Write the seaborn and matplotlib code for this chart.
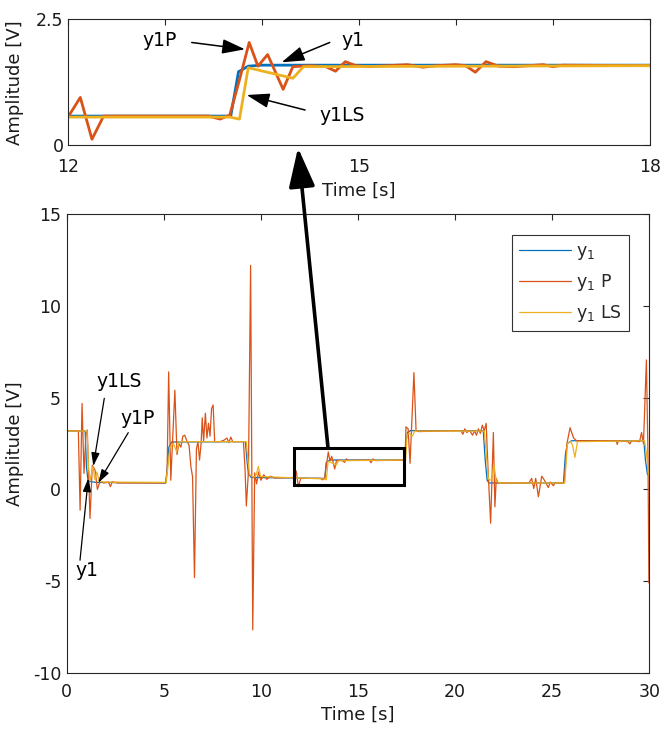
import matplotlib
matplotlib.use("Agg")
import matplotlib.pyplot as plt
import seaborn as sns
import pandas as pd
from matplotlib.patches import Rectangle

# ---------------- data ----------------
# main plot, 0-30 s
t_y1 = [0, 0.95, 1.02, 1.1, 1.5, 5.1, 5.18, 5.26, 5.4, 9.2, 9.28, 9.36, 9.5,
        13.29, 13.36, 13.46, 13.6, 17.4, 17.47, 17.55, 17.7, 21.45, 21.55, 21.65,
        21.75, 25.58, 25.68, 25.78, 26.0, 29.72, 29.8, 29.9, 30.0]
v_y1 = [3.18, 3.18, 1.2, 0.45, 0.38, 0.35, 1.2, 2.3, 2.58, 2.6, 1.6, 0.85, 0.65,
        0.6, 1.46, 1.56, 1.6, 1.6, 2.6, 3.1, 3.2, 3.2, 1.6, 0.5,
        0.35, 0.35, 1.9, 2.5, 2.65, 2.65, 1.6, 0.85, 0.7]

t_y1p = [0, 0.6, 0.69, 0.79, 0.89, 0.99, 1.06, 1.2, 1.32, 1.46, 1.58, 1.72, 1.9,
         2.15, 2.25, 2.35, 2.6, 5.1, 5.17, 5.25, 5.36, 5.47, 5.57, 5.68, 5.78,
         5.88, 5.98, 6.08, 6.2, 6.3, 6.4, 6.48, 6.58, 6.68, 6.76, 6.84, 6.92,
         6.98, 7.05, 7.14, 7.22, 7.3, 7.38, 7.46, 7.54, 7.62, 7.9, 8.1, 8.25,
         8.35, 8.45, 8.55, 9.1, 9.18, 9.25, 9.36, 9.47, 9.58, 9.68, 9.78, 9.88,
         10.0, 10.15, 10.3, 10.5, 10.7, 11.7, 11.82, 11.93, 12.05, 13.07, 13.18,
         13.28, 13.37, 13.47, 13.55, 13.65, 13.8, 13.89, 14.06, 14.21, 14.31,
         14.4, 14.51, 15.58, 15.67, 15.77, 15.9, 17.42, 17.47, 17.58, 17.68,
         17.88, 17.99, 18.1, 20.3, 20.4, 20.5, 20.6, 20.75, 20.9, 21.0, 21.1,
         21.2, 21.3, 21.4, 21.5, 21.6, 21.7, 21.83, 21.97, 22.05, 22.12, 22.2,
         23.8, 23.94, 24.05, 24.15, 24.29, 24.46, 24.6, 24.8, 24.9, 25.06,
         25.15, 25.6, 25.66, 25.76, 25.92, 26.1, 26.25, 28.3, 28.35, 28.4,
         28.9, 29.0, 29.1, 29.5, 29.6, 29.7, 29.85, 29.93, 29.98]
v_y1p = [3.2, 3.2, -1.13, 4.68, 0.87, 3.0, 3.23, -1.58, 1.32, 1.05, 0.0, 0.45, 0.35,
         0.4, 0.15, 0.42, 0.35, 0.35, 1.0, 6.4, 0.5, 3.0, 5.4, 1.9, 2.5,
         2.3, 2.9, 2.95, 2.6, 2.4, 1.2, 0.7, -4.8, 2.2, 2.6, 1.6, 2.5,
         3.9, 2.6, 4.15, 2.8, 3.6, 2.9, 4.4, 4.6, 2.6, 2.6, 2.68, 2.8,
         2.55, 2.85, 2.6, 2.6, 1.2, -0.9, 1.0, 12.2, -7.65, 0.9, 0.3, 0.95,
         0.5, 0.8, 0.55, 0.72, 0.62, 0.65, 1.0, 0.15, 0.6, 0.6, 0.52,
         0.6, 1.3, 2.04, 1.57, 1.8, 1.11, 1.56, 1.6, 1.56, 1.47,
         1.66, 1.58, 1.6, 1.45, 1.66, 1.57, 1.6, 3.41, 3.3, 1.42,
         6.36, 3.2, 3.15, 3.2, 3.0, 3.3, 3.1, 3.2, 2.95, 3.2, 2.95,
         3.3, 3.05, 3.5, 3.2, 3.6, 1.0, -1.84, 3.1, -0.95, 0.6, 0.35,
         0.35, 0.6, 0.05, 0.6, -0.4, 0.72, 0.5, 0.1, 0.4, 0.2,
         0.35, 0.35, 1.0, 2.5, 3.36, 2.8, 2.65, 2.65, 2.45, 2.65,
         2.6, 2.48, 2.65, 2.6, 3.1, 2.5, 7.05, 2.0, -5.1]

t_y1ls = [0, 1.05, 1.12, 1.2, 1.35, 1.45, 1.55, 1.68, 1.9, 5.12, 5.22, 5.31, 5.49,
          5.66, 5.8, 9.25, 9.33, 9.42, 9.6, 9.73, 9.87, 9.98, 13.28, 13.37, 13.46,
          13.89, 14.0, 17.45, 17.53, 17.65, 17.8, 17.92, 21.5, 21.6, 21.72, 21.88,
          22.0, 22.12, 22.3, 25.65, 25.78, 25.95, 26.05, 26.17, 26.3, 29.75, 29.85,
          29.95, 30.0]
v_y1ls = [3.18, 3.18, 1.2, 0.47, 1.25, 0.55, 0.95, 0.45, 0.4, 0.38, 1.3, 2.29, 2.5,
          2.05, 2.6, 2.6, 1.6, 0.8, 0.68, 0.7, 1.25, 0.7, 0.57, 0.52, 1.54,
          1.33, 1.56, 1.6, 3.0, 3.05, 2.9, 3.18, 3.18, 2.0, 0.55, 0.5,
          1.33, 0.45, 0.35, 0.35, 2.5, 2.6, 2.4, 1.74, 2.6, 2.65, 2.0,
          0.9, 0.7]

# inset (zoomed view), as labelled 12-18 s in the reference
t_in_y1 = [12, 13.68, 13.76, 13.86, 14.0, 18]
v_in_y1 = [0.58, 0.58, 1.46, 1.57, 1.59, 1.59]
t_in_y1p = [12.0, 12.13, 12.25, 12.37, 13.45, 13.57, 13.67, 13.77, 13.87, 13.96,
            14.06, 14.22, 14.32, 14.5, 14.66, 14.76, 14.86, 14.97, 15.1, 15.3,
            15.5, 15.66, 15.8, 16.0, 16.1, 16.2, 16.31, 16.44, 16.6, 16.9, 17.0,
            17.1, 18.0]
v_in_y1p = [0.55, 0.95, 0.12, 0.58, 0.58, 0.52, 0.6, 1.3, 2.04, 1.57,
            1.8, 1.11, 1.56, 1.58, 1.56, 1.47, 1.66, 1.58, 1.56, 1.58,
            1.6, 1.55, 1.58, 1.6, 1.58, 1.45, 1.66, 1.57, 1.56, 1.6, 1.56,
            1.59, 1.58]
t_in_y1ls = [12, 13.67, 13.77, 13.86, 14.32, 14.43, 18]
v_in_y1ls = [0.56, 0.56, 0.52, 1.54, 1.33, 1.56, 1.58]

series_labels = [r'$\mathregular{y_1}$', r'$\mathregular{y_1}$ P', r'$\mathregular{y_1}$ LS']
series_colors = ['#0072BD', '#D95319', '#EDB120']

main_xticks = [0, 5, 10, 15, 20, 25, 30]
main_yticks = [-10, -5, 0, 5, 10, 15]
inset_xticks = [12, 13, 14, 15, 16, 17, 18]
inset_xticklabels = ['12', '', '', '15', '', '', '18']
inset_yticks = [0, 2.5]
inset_yticklabels = ['0', '2.5']

# ---------------- figure ----------------
sns.set_style("white")
plt.rcParams['font.family'] = ['DejaVu Sans']
plt.rcParams['axes.unicode_minus'] = False

W, H = 662, 731
fig = plt.figure(figsize=(W / 100, H / 100), dpi=100)

def fbox(l, t, r, b):
    return [l / W, 1 - b / H, (r - l) / W, (b - t) / H]

ax_in = fig.add_axes(fbox(67.7, 19.3, 650, 145.3))
ax = fig.add_axes(fbox(66.7, 214, 649.3, 673))

main_series = [(t_y1, v_y1), (t_y1p, v_y1p), (t_y1ls, v_y1ls)]
inset_series = [(t_in_y1, v_in_y1), (t_in_y1p, v_in_y1p), (t_in_y1ls, v_in_y1ls)]
for (tt, vv), (ti, vi), lab, col in zip(main_series, inset_series, series_labels, series_colors):
    df = pd.DataFrame({'t': tt, 'v': vv})
    sns.lineplot(data=df, x='t', y='v', ax=ax, color=col, linewidth=0.9,
                 label=lab, estimator=None, sort=False)
    dfi = pd.DataFrame({'t': ti, 'v': vi})
    sns.lineplot(data=dfi, x='t', y='v', ax=ax_in, color=col, linewidth=2.0,
                 estimator=None, sort=False, legend=False)

spine_c = '#262626'
for a in (ax, ax_in):
    for s in a.spines.values():
        s.set_visible(True)
        s.set_color(spine_c)
        s.set_linewidth(0.8)
    a.tick_params(direction='in', top=True, right=True, length=4, width=0.8,
                  colors=spine_c, labelcolor='#1a1a1a', labelsize=12.5)

ax.set_xlim(0, 30)
ax.set_ylim(-10, 15)
ax.set_xticks(main_xticks)
ax.set_yticks(main_yticks)
ax.tick_params(axis='x', pad=7)
ax.tick_params(axis='y', pad=4)

ax_in.set_xlim(12, 18)
ax_in.set_ylim(0, 2.5)
ax_in.set_xticks(inset_xticks)
ax_in.set_xticklabels(inset_xticklabels)
ax_in.set_yticks(inset_yticks)
ax_in.set_yticklabels(inset_yticklabels)
ax_in.tick_params(axis='x', pad=9)
ax_in.tick_params(axis='y', pad=3)

for a in (ax, ax_in):
    a.set_xlabel('Time [s]', fontsize=13, color='#1a1a1a')
    a.set_ylabel('Amplitude [V]', fontsize=13, color='#1a1a1a')
ax.yaxis.set_label_coords(-0.073, 0.5)
ax_in.yaxis.set_label_coords(-0.075, 0.5)
ax.xaxis.set_label_coords(0.5, -0.072)
ax_in.xaxis.set_label_coords(0.5, -0.29)

leg = ax.legend(loc='upper right', bbox_to_anchor=(0.965, 0.955), fontsize=12.5,
                frameon=True, fancybox=False, framealpha=1, edgecolor='#333333',
                borderaxespad=0, handlelength=3.0, handletextpad=0.3,
                labelspacing=0.6, borderpad=0.4)
leg.get_frame().set_linewidth(0.8)

# zoom rectangle in the main plot
ax.add_patch(Rectangle((11.7, 0.23), 5.67, 2.04, fill=False, lw=2.2, ec='k', zorder=5))

# big arrow from the rectangle to the inset
ax.annotate('', xy=(14.373, -0.05), xycoords=ax_in.transData,
            xytext=(13.455, 2.27), textcoords=ax.transData,
            arrowprops=dict(arrowstyle='-|>,head_length=1.2,head_width=0.4',
                            lw=2.6, color='k', mutation_scale=20,
                            shrinkA=0, shrinkB=0),
            annotation_clip=False, zorder=6)

def label_arrow(a, text, tpos, tail, head, fs, hl, hw, lw):
    a.text(tpos[0], tpos[1], text, fontsize=fs, ha='center', va='center', color='k')
    a.annotate('', xy=head, xytext=tail,
               arrowprops=dict(arrowstyle=f'-|>,head_length={hl},head_width={hw}',
                               lw=lw, color='k', mutation_scale=10,
                               shrinkA=0, shrinkB=0),
               annotation_clip=False)

# inset annotations
label_arrow(ax_in, 'y1P', (12.95, 2.07), (13.278, 2.04), (13.827, 1.905), 13.5, 1.4, 0.45, 1.1)
label_arrow(ax_in, 'y1', (14.94, 2.075), (14.70, 2.04), (14.205, 1.647), 13.5, 1.4, 0.45, 1.1)
label_arrow(ax_in, 'y1LS', (14.823, 0.60), (14.446, 0.70), (13.844, 0.998), 13.5, 1.4, 0.45, 1.1)

# main annotations
label_arrow(ax, 'y1LS', (2.71, 5.87), (1.936, 4.96), (1.37, 1.27), 13.5, 0.8, 0.25, 0.9)
label_arrow(ax, 'y1P', (3.635, 3.87), (3.17, 3.09), (1.627, 0.36), 13.5, 0.8, 0.25, 0.9)
label_arrow(ax, 'y1', (1.06, -4.40), (0.685, -3.855), (1.112, 0.60), 13.5, 0.8, 0.25, 0.9)

fig.savefig('out.png', dpi=100)
